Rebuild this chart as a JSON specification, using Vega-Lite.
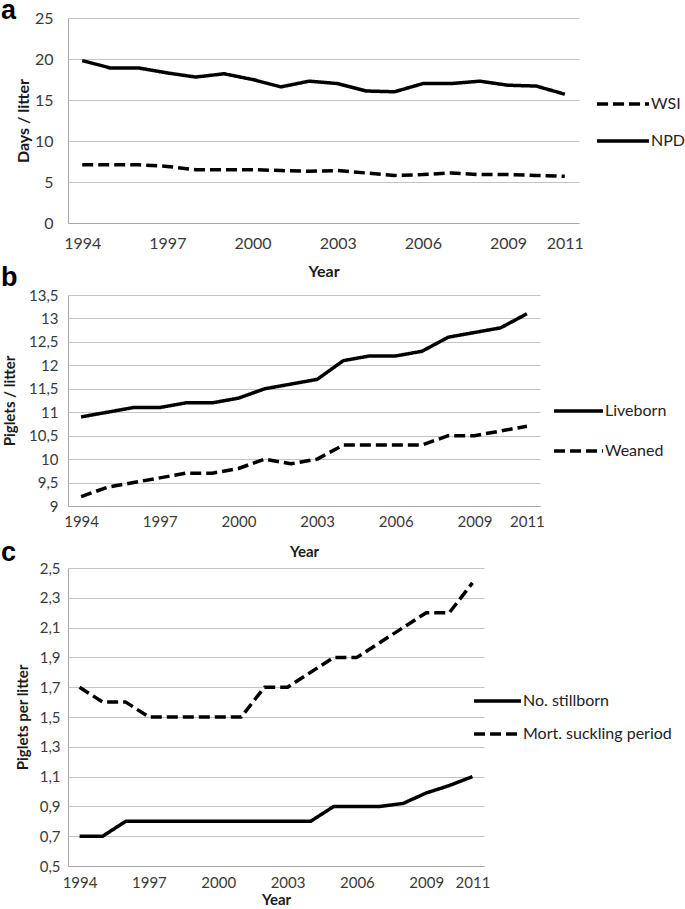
{
  "$schema": "https://vega.github.io/schema/vega-lite/v6.json",
  "background": "white",
  "padding": {"left": 1, "top": -3, "right": 2, "bottom": 2},
  "config": {
    "view": {"stroke": null},
    "axis": {
      "labelFont": "Lato", "titleFont": "Lato", "labelColor": "#3a3a3a", "titleColor": "#1a1a1a",
      "titleFontWeight": "bold", "ticks": false, "domainColor": "#a8a8a8", "gridColor": "#c4c4c4",
      "domainWidth": 1, "gridWidth": 1
    },
    "legend": {"labelFont": "Lato", "labelColor": "#222222"},
    "title": {"font": "Liberation Sans", "fontWeight": "bold", "color": "black", "anchor": "start", "frame": "group"}
  },
  "datasets": {
    "a": [
      {"year": 1994, "series": "NPD", "value": 19.8}, {"year": 1995, "series": "NPD", "value": 18.9},
      {"year": 1996, "series": "NPD", "value": 18.9}, {"year": 1997, "series": "NPD", "value": 18.3},
      {"year": 1998, "series": "NPD", "value": 17.8}, {"year": 1999, "series": "NPD", "value": 18.2},
      {"year": 2000, "series": "NPD", "value": 17.5}, {"year": 2001, "series": "NPD", "value": 16.6},
      {"year": 2002, "series": "NPD", "value": 17.3}, {"year": 2003, "series": "NPD", "value": 17.0},
      {"year": 2004, "series": "NPD", "value": 16.1}, {"year": 2005, "series": "NPD", "value": 16.0},
      {"year": 2006, "series": "NPD", "value": 17.0}, {"year": 2007, "series": "NPD", "value": 17.0},
      {"year": 2008, "series": "NPD", "value": 17.3}, {"year": 2009, "series": "NPD", "value": 16.8},
      {"year": 2010, "series": "NPD", "value": 16.7}, {"year": 2011, "series": "NPD", "value": 15.7},
      {"year": 1994, "series": "WSI", "value": 7.1}, {"year": 1995, "series": "WSI", "value": 7.1},
      {"year": 1996, "series": "WSI", "value": 7.1}, {"year": 1997, "series": "WSI", "value": 6.9},
      {"year": 1998, "series": "WSI", "value": 6.5}, {"year": 1999, "series": "WSI", "value": 6.5},
      {"year": 2000, "series": "WSI", "value": 6.5}, {"year": 2001, "series": "WSI", "value": 6.4},
      {"year": 2002, "series": "WSI", "value": 6.3}, {"year": 2003, "series": "WSI", "value": 6.4},
      {"year": 2004, "series": "WSI", "value": 6.1}, {"year": 2005, "series": "WSI", "value": 5.8},
      {"year": 2006, "series": "WSI", "value": 5.9}, {"year": 2007, "series": "WSI", "value": 6.1},
      {"year": 2008, "series": "WSI", "value": 5.9}, {"year": 2009, "series": "WSI", "value": 5.9},
      {"year": 2010, "series": "WSI", "value": 5.8}, {"year": 2011, "series": "WSI", "value": 5.7}
    ],
    "b": [
      {"year": 1994, "series": "Liveborn", "value": 10.9}, {"year": 1995, "series": "Liveborn", "value": 11.0},
      {"year": 1996, "series": "Liveborn", "value": 11.1}, {"year": 1997, "series": "Liveborn", "value": 11.1},
      {"year": 1998, "series": "Liveborn", "value": 11.2}, {"year": 1999, "series": "Liveborn", "value": 11.2},
      {"year": 2000, "series": "Liveborn", "value": 11.3}, {"year": 2001, "series": "Liveborn", "value": 11.5},
      {"year": 2002, "series": "Liveborn", "value": 11.6}, {"year": 2003, "series": "Liveborn", "value": 11.7},
      {"year": 2004, "series": "Liveborn", "value": 12.1}, {"year": 2005, "series": "Liveborn", "value": 12.2},
      {"year": 2006, "series": "Liveborn", "value": 12.2}, {"year": 2007, "series": "Liveborn", "value": 12.3},
      {"year": 2008, "series": "Liveborn", "value": 12.6}, {"year": 2009, "series": "Liveborn", "value": 12.7},
      {"year": 2010, "series": "Liveborn", "value": 12.8}, {"year": 2011, "series": "Liveborn", "value": 13.1},
      {"year": 1994, "series": "Weaned", "value": 9.2}, {"year": 1995, "series": "Weaned", "value": 9.4},
      {"year": 1996, "series": "Weaned", "value": 9.5}, {"year": 1997, "series": "Weaned", "value": 9.6},
      {"year": 1998, "series": "Weaned", "value": 9.7}, {"year": 1999, "series": "Weaned", "value": 9.7},
      {"year": 2000, "series": "Weaned", "value": 9.8}, {"year": 2001, "series": "Weaned", "value": 10.0},
      {"year": 2002, "series": "Weaned", "value": 9.9}, {"year": 2003, "series": "Weaned", "value": 10.0},
      {"year": 2004, "series": "Weaned", "value": 10.3}, {"year": 2005, "series": "Weaned", "value": 10.3},
      {"year": 2006, "series": "Weaned", "value": 10.3}, {"year": 2007, "series": "Weaned", "value": 10.3},
      {"year": 2008, "series": "Weaned", "value": 10.5}, {"year": 2009, "series": "Weaned", "value": 10.5},
      {"year": 2010, "series": "Weaned", "value": 10.6}, {"year": 2011, "series": "Weaned", "value": 10.7}
    ],
    "c": [
      {"year": 1994, "series": "No. stillborn", "value": 0.7}, {"year": 1995, "series": "No. stillborn", "value": 0.7},
      {"year": 1996, "series": "No. stillborn", "value": 0.8}, {"year": 1997, "series": "No. stillborn", "value": 0.8},
      {"year": 1998, "series": "No. stillborn", "value": 0.8}, {"year": 1999, "series": "No. stillborn", "value": 0.8},
      {"year": 2000, "series": "No. stillborn", "value": 0.8}, {"year": 2001, "series": "No. stillborn", "value": 0.8},
      {"year": 2002, "series": "No. stillborn", "value": 0.8}, {"year": 2003, "series": "No. stillborn", "value": 0.8},
      {"year": 2004, "series": "No. stillborn", "value": 0.8}, {"year": 2005, "series": "No. stillborn", "value": 0.9},
      {"year": 2006, "series": "No. stillborn", "value": 0.9}, {"year": 2007, "series": "No. stillborn", "value": 0.9},
      {"year": 2008, "series": "No. stillborn", "value": 0.92}, {"year": 2009, "series": "No. stillborn", "value": 0.99},
      {"year": 2010, "series": "No. stillborn", "value": 1.04}, {"year": 2011, "series": "No. stillborn", "value": 1.1},
      {"year": 1994, "series": "Mort. suckling period", "value": 1.7}, {"year": 1995, "series": "Mort. suckling period", "value": 1.6},
      {"year": 1996, "series": "Mort. suckling period", "value": 1.6}, {"year": 1997, "series": "Mort. suckling period", "value": 1.5},
      {"year": 1998, "series": "Mort. suckling period", "value": 1.5}, {"year": 1999, "series": "Mort. suckling period", "value": 1.5},
      {"year": 2000, "series": "Mort. suckling period", "value": 1.5}, {"year": 2001, "series": "Mort. suckling period", "value": 1.5},
      {"year": 2002, "series": "Mort. suckling period", "value": 1.7}, {"year": 2003, "series": "Mort. suckling period", "value": 1.7},
      {"year": 2004, "series": "Mort. suckling period", "value": 1.8}, {"year": 2005, "series": "Mort. suckling period", "value": 1.9},
      {"year": 2006, "series": "Mort. suckling period", "value": 1.9}, {"year": 2007, "series": "Mort. suckling period", "value": 2.0},
      {"year": 2008, "series": "Mort. suckling period", "value": 2.1}, {"year": 2009, "series": "Mort. suckling period", "value": 2.2},
      {"year": 2010, "series": "Mort. suckling period", "value": 2.2}, {"year": 2011, "series": "Mort. suckling period", "value": 2.4}
    ]
  },
  "bounds": "flush",
  "spacing": 72,
  "resolve": {"scale": {"strokeDash": "independent", "y": "independent", "x": "independent"}, "legend": {"strokeDash": "independent"}},
  "vconcat": [
    {
      "width": 511, "height": 205,
      "title": {"text": "a", "fontSize": 27, "dx": -67, "dy": 19},
      "data": {"name": "a"},
      "mark": {"type": "line", "color": "black", "strokeWidth": 3.5, "strokeJoin": "round"},
      "encoding": {
        "x": {"field": "year", "type": "quantitative",
          "scale": {"domain": [1993.5, 2011.5], "nice": false, "zero": false},
          "axis": {"title": "Year", "values": [1994, 1997, 2000, 2003, 2006, 2009, 2011], "format": "d", "grid": false,
            "labelFontSize": 16, "labelPadding": 12, "titleFontSize": 16, "titlePadding": 12}},
        "y": {"field": "value", "type": "quantitative",
          "scale": {"domain": [0, 25], "nice": false},
          "axis": {"title": "Days / litter", "values": [0, 5, 10, 15, 20, 25], "labelFontSize": 16, "labelPadding": 15,
            "titleFontSize": 16, "titleX": -45, "titleBaseline": "middle"}},
        "strokeDash": {"field": "series", "type": "nominal",
          "scale": {"domain": ["WSI", "NPD"], "range": [[11, 5], [1, 0]]},
          "legend": {"title": null, "orient": "none", "legendX": 527, "legendY": 76, "symbolType": "stroke",
            "symbolSize": 2704, "symbolStrokeWidth": 3.5, "symbolStrokeColor": "black", "clipHeight": 20,
            "rowPadding": 17, "labelFontSize": 16, "labelOffset": 0}}
      }
    },
    {
      "bounds": "flush",
      "spacing": 62,
      "resolve": {"scale": {"strokeDash": "independent", "y": "independent", "x": "independent"}, "legend": {"strokeDash": "independent"}},
      "vconcat": [
        {
          "width": 472, "height": 211,
          "title": {"text": "b", "fontSize": 27, "dx": -67, "dy": 8},
          "data": {"name": "b"},
          "mark": {"type": "line", "color": "black", "strokeWidth": 3.5, "strokeJoin": "round"},
          "encoding": {
            "x": {"field": "year", "type": "quantitative",
              "scale": {"domain": [1993.5, 2011.5], "nice": false, "zero": false},
              "axis": {"title": "Year", "values": [1994, 1997, 2000, 2003, 2006, 2009, 2011], "format": "d", "grid": false,
                "labelFontSize": 15, "labelPadding": 8, "titleFontSize": 15, "titlePadding": 15}},
            "y": {"field": "value", "type": "quantitative",
              "scale": {"domain": [9, 13.5], "nice": false, "zero": false},
              "axis": {"title": "Piglets / litter", "values": [9, 9.5, 10, 10.5, 11, 11.5, 12, 12.5, 13, 13.5],
                "labelExpr": "replace(toString(datum.value), '.', ',')",
                "labelFontSize": 15, "labelPadding": 10, "titleFontSize": 15, "titleX": -59, "titleBaseline": "middle"}},
            "strokeDash": {"field": "series", "type": "nominal",
              "scale": {"domain": ["Liveborn", "Weaned"], "range": [[1, 0], [11, 5]]},
              "legend": {"title": null, "orient": "none", "legendX": 484, "legendY": 106, "symbolType": "stroke",
                "symbolSize": 2401, "symbolStrokeWidth": 3.5, "symbolStrokeColor": "black", "clipHeight": 20,
                "rowPadding": 20, "labelFontSize": 16, "labelOffset": 0}}
          }
        },
        {
          "width": 416, "height": 298,
          "title": {"text": "c", "fontSize": 27, "dx": -67, "dy": 10},
          "data": {"name": "c"},
          "mark": {"type": "line", "color": "black", "strokeWidth": 3.5, "strokeJoin": "round"},
          "encoding": {
            "x": {"field": "year", "type": "quantitative",
              "scale": {"domain": [1993.5, 2011.5], "nice": false, "zero": false},
              "axis": {"title": "Year", "values": [1994, 1997, 2000, 2003, 2006, 2009, 2011], "format": "d", "grid": false,
                "labelFontSize": 15, "labelPadding": 9, "titleFontSize": 15, "titlePadding": 2}},
            "y": {"field": "value", "type": "quantitative",
              "scale": {"domain": [0.5, 2.5], "nice": false, "zero": false},
              "axis": {"title": "Piglets per litter", "values": [0.5, 0.7, 0.9, 1.1, 1.3, 1.5, 1.7, 1.9, 2.1, 2.3, 2.5],
                "labelExpr": "replace(toString(datum.value), '.', ',')",
                "labelFontSize": 15, "labelPadding": 8, "titleFontSize": 15, "titleX": -46, "titleBaseline": "middle"}},
            "strokeDash": {"field": "series", "type": "nominal",
              "scale": {"domain": ["No. stillborn", "Mort. suckling period"], "range": [[1, 0], [11, 5]]},
              "legend": {"title": null, "orient": "none", "legendX": 404, "legendY": 123, "symbolType": "stroke",
                "symbolSize": 2209, "symbolStrokeWidth": 3.5, "symbolStrokeColor": "black", "clipHeight": 20,
                "rowPadding": 13, "labelFontSize": 16, "labelOffset": 0}}
          }
        }
      ]
    }
  ]
}
